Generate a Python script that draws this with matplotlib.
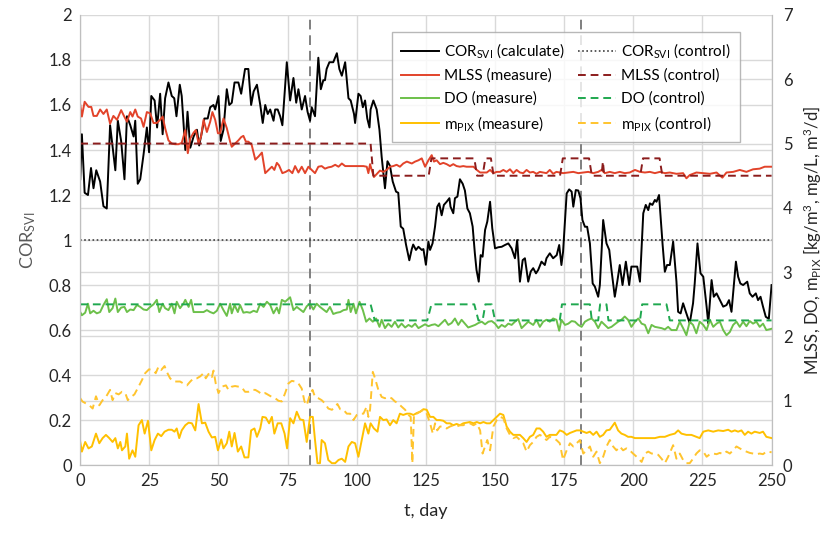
import numpy as np
import matplotlib
matplotlib.use('Agg')
from matplotlib import pyplot as plt

plt.rcParams['font.family'] = ['Lato', 'DejaVu Sans']
plt.rcParams['mathtext.fontset'] = 'custom'
plt.rcParams['mathtext.rm'] = 'Lato'
plt.rcParams['mathtext.it'] = 'Lato'
plt.rcParams['mathtext.default'] = 'rm'

# COR_SVI (calculate), left axis
cor_day = [0, 0.6, 1.6, 2.8, 3.9, 4.8, 5.8, 7.2, 8.4, 9.6, 10.8, 12.7, 13.6, 14.8, 16.0, 16.9,
           18.1, 19.3, 19.9, 20.8, 21.7, 22.9, 24.1, 24.9, 25.7, 26.9, 27.8, 28.9, 29.8, 30.7,
           31.9, 33.1, 34.0, 34.8, 36.0, 36.7, 38.0, 38.8, 39.8, 41.0, 42.2, 43.0, 44.0, 44.9,
           46.1, 47.0, 48.2, 48.8, 50.0, 50.8, 51.8, 53.0, 53.9, 54.8, 55.8, 57.2, 58.2, 59.6,
           60.8, 61.8, 62.7, 63.9, 65.1, 66.0, 66.9, 67.8, 68.7, 69.9, 70.5, 71.4, 72.3, 73.1,
           74.7, 75.9, 77.1, 78.1, 78.9, 80.1, 81.3, 82.2, 83.1, 83.7, 84.9, 86.1, 87.0, 87.9,
           88.5, 89.1, 90.1, 91.5, 92.8, 93.7, 94.6, 95.8, 97.0, 97.8, 99.0, 99.4, 100.6, 101.4,
           102.2, 103.0, 103.8, 104.6, 105.0, 106.0, 107.2, 108.2, 109.0, 109.6, 110.2, 111.1,
           112.0, 113.0, 114.2, 115.0, 115.9, 116.8, 117.8, 119.0, 119.9, 120.4, 121.4, 122.3,
           123.5, 124.1, 125.0, 125.9, 126.5, 127.4, 128.3, 129.1, 129.8, 130.7, 131.5, 132.5,
           133.5, 133.9, 134.9, 135.5, 136.4, 137.3, 138.3, 139.1, 140.0, 140.9, 141.9, 142.7,
           143.3, 144.1, 144.8, 145.5, 146.4, 147.2, 148.2, 149.0, 150.0, 151.2, 152.4, 153.6,
           154.8, 156.0, 157.2, 158.0, 159.0, 160.0, 160.8, 162.0, 162.9, 163.8, 164.8, 165.6,
           166.8, 168.0, 168.6, 169.8, 171.0, 172.3, 173.2, 174.0, 174.6, 175.9, 176.8, 177.7,
           178.3, 179.2, 180.1, 180.9, 181.6, 182.5, 183.3, 184.3, 185.3, 186.1, 187.3, 187.9,
           189.1, 190.3, 191.3, 192.1, 193.3, 194.2, 195.1, 196.1, 197.3, 198.5, 199.3, 200.6,
           201.4, 202.4, 203.6, 204.5, 205.4, 206.0, 206.9, 207.8, 208.4, 209.3, 210.6, 211.4,
           212.2, 213.2, 214.4, 215.6, 216.2, 217.1, 218.0, 219.0, 220.4, 221.6, 222.2, 223.2,
           224.3, 225.3, 226.5, 227.1, 228.3, 229.1, 230.1, 231.3, 232.5, 233.7, 234.6, 235.5,
           236.3, 237.1, 237.9, 238.7, 239.7, 241.2, 242.1, 243.1, 244.3, 245.1, 246.0, 246.9,
           247.9, 249.0, 250.0]
cor_val = [1.27, 1.47, 1.21, 1.20, 1.32, 1.23, 1.31, 1.26, 1.15, 1.14, 1.51, 1.31, 1.53, 1.44, 1.27, 1.55,
           1.51, 1.46, 1.53, 1.25, 1.27, 1.38, 1.50, 1.39, 1.64, 1.62, 1.50, 1.65, 1.47, 1.63,
           1.70, 1.64, 1.63, 1.55, 1.69, 1.64, 1.40, 1.57, 1.41, 1.46, 1.49, 1.42, 1.48, 1.54,
           1.54, 1.59, 1.60, 1.58, 1.64, 1.44, 1.49, 1.67, 1.60, 1.61, 1.70, 1.70, 1.65, 1.76,
           1.76, 1.60, 1.66, 1.69, 1.60, 1.52, 1.60, 1.56, 1.58, 1.53, 1.58, 1.58, 1.55, 1.51,
           1.79, 1.62, 1.72, 1.61, 1.67, 1.58, 1.64, 1.57, 1.53, 1.59, 1.55, 1.81, 1.67, 1.71,
           1.71, 1.76, 1.79, 1.79, 1.83, 1.76, 1.73, 1.79, 1.63, 1.62, 1.56, 1.52, 1.65, 1.64,
           1.59, 1.62, 1.54, 1.50, 1.58, 1.62, 1.58, 1.49, 1.37, 1.30, 1.23, 1.35,
           1.33, 1.26, 1.215, 1.21, 1.06, 1.05, 0.98, 0.91, 0.96, 0.98, 0.956, 0.97,
           0.956, 0.96, 0.89, 0.993, 0.956, 0.985, 1.06, 1.148, 1.163, 1.11, 1.156, 1.17,
           1.186, 1.148, 1.119, 1.186, 1.193, 1.27, 1.25, 1.22, 1.14, 1.119, 1.06, 0.941,
           0.867, 0.815, 0.933, 0.926, 1.045, 1.082, 1.17, 1.052, 0.963, 0.968, 0.97, 0.978,
           0.985, 0.963, 0.919, 1.0, 0.815, 0.911, 0.919, 0.815, 0.86, 0.875, 0.852, 0.867,
           0.904, 0.889, 0.919, 0.941, 0.919, 0.933, 0.978, 0.889, 0.948, 1.207, 1.225, 1.215,
           1.148, 1.222, 1.22, 1.185, 1.089, 1.059, 1.059, 0.985, 0.807, 0.793, 0.748, 0.80,
           1.089, 0.985, 0.956, 0.867, 0.748, 0.815, 0.889, 0.80, 0.904, 0.80, 0.882, 0.882,
           0.882, 0.815, 1.119, 1.156, 1.133, 1.163, 1.156, 1.178, 1.17, 1.20, 0.978, 0.859,
           0.889, 0.889, 0.993, 0.815, 0.681, 0.674, 0.719, 0.681, 0.63, 0.719, 0.807, 0.985,
           0.852, 0.837, 0.704, 0.63, 0.822, 0.748, 0.763, 0.733, 0.704, 0.711, 0.733, 0.681,
           0.793, 0.904, 0.837, 0.807, 0.80, 0.815, 0.763, 0.748, 0.763, 0.733, 0.748, 0.704,
           0.659, 0.65, 0.80]

# COR_SVI (control)
cor_ctrl_day = [0, 250]
cor_ctrl_val = [1.0, 1.0]

# MLSS (measure), right axis
mlss_day = [0, 0.6, 1.6, 3.0, 4.0, 4.8, 6.0, 7.2, 8.4, 9.6, 10.8, 12.0, 13.3, 14.8, 15.7, 16.9,
            18.1, 18.9, 19.9, 20.8, 22.0, 22.9, 24.1, 25.3, 26.5, 27.7, 28.9, 29.8, 30.7, 31.9,
            33.1, 34.3, 35.5, 36.7, 38.0, 38.9, 39.8, 41.0, 41.8, 42.8, 43.7, 44.6, 45.8, 47.0,
            47.8, 48.8, 49.8, 50.6, 51.8, 53.0, 54.2, 54.8, 56.0, 57.2, 58.2, 59.0, 59.9, 60.8,
            62.0, 63.3, 64.5, 65.7, 66.9, 68.1, 69.3, 70.2, 71.1, 71.9, 73.1, 74.3, 75.5, 76.7,
            77.7, 78.9, 80.1, 81.3, 82.5, 83.7, 84.9, 86.1, 87.3, 88.5, 89.7, 90.9, 92.2, 93.4,
            94.6, 95.8, 97.0, 98.8, 100.6, 102.4, 103.6, 104.2, 104.8, 105.4, 106.2, 107.5, 108.4,
            109.6, 110.8, 112.0, 113.2, 114.4, 115.6, 116.8, 118.1, 119.9, 121.1, 122.3, 123.5,
            124.7, 125.9, 127.1, 127.9, 128.9, 130.1, 131.3, 132.5, 133.7, 134.9, 136.1, 137.3,
            138.5, 139.7, 140.9, 142.2, 143.4, 144.6, 145.8, 147.0, 148.2, 149.4, 150.6, 151.8,
            153.0, 154.2, 155.4, 156.6, 157.8, 159.0, 160.2, 161.4, 162.6, 163.8, 165.0, 166.2,
            167.4, 168.6, 169.8, 171.0, 172.2, 173.4, 174.6, 176.5, 178.3, 180.1, 181.9, 183.7,
            185.5, 187.3, 188.5, 189.7, 191.5, 193.3, 195.1, 196.9, 198.7, 200.6, 202.4, 204.2,
            206.0, 207.8, 209.6, 211.4, 213.2, 215.6, 218.0, 219.2, 220.4, 222.8, 225.3, 227.7,
            230.1, 232.2, 233.7, 236.1, 238.5, 240.9, 243.3, 245.7, 247.5, 250.0]
mlss_val = [5.60, 5.42, 5.65, 5.57, 5.57, 5.43, 5.43, 5.53, 5.46, 5.53, 5.31, 5.43, 5.37, 5.52, 5.44, 5.34,
            5.49, 5.42, 5.53, 5.42, 5.39, 5.26, 5.49, 5.47, 5.32, 5.32, 5.37, 5.42, 5.24, 5.05,
            5.00, 4.99, 4.99, 5.01, 5.21, 4.85, 5.08, 5.17, 5.21, 5.00, 5.11, 5.37, 5.18, 5.34,
            5.49, 5.37, 5.16, 5.16, 5.39, 5.24, 5.03, 4.95, 5.00, 5.05, 5.10, 5.12, 5.03, 5.03,
            4.98, 4.75, 4.80, 4.86, 4.54, 4.59, 4.64, 4.59, 4.70, 4.66, 4.54, 4.56, 4.59, 4.54,
            4.65, 4.55, 4.64, 4.54, 4.64, 4.59, 4.54, 4.64, 4.65, 4.61, 4.63, 4.64, 4.67, 4.64,
            4.69, 4.65, 4.65, 4.65, 4.65, 4.65, 4.64, 4.54, 4.68, 4.59, 4.48, 4.54, 4.58,
            4.56, 4.59, 4.64, 4.65, 4.67, 4.64, 4.69, 4.72, 4.69, 4.72, 4.74, 4.77,
            4.64, 4.74, 4.82, 4.72, 4.74, 4.68, 4.70, 4.68, 4.65, 4.68, 4.65, 4.64,
            4.65, 4.64, 4.64, 4.64, 4.59, 4.55, 4.55, 4.55, 4.59, 4.54, 4.56, 4.56,
            4.59, 4.56, 4.60, 4.54, 4.59, 4.55, 4.54, 4.59, 4.55, 4.56, 4.53, 4.56,
            4.55, 4.54, 4.59, 4.53, 4.56, 4.55, 4.54, 4.55, 4.56, 4.54, 4.55, 4.56,
            4.54, 4.56, 4.59, 4.54, 4.56, 4.54, 4.56, 4.54, 4.55, 4.59, 4.56, 4.55,
            4.56, 4.54, 4.56, 4.54, 4.55, 4.53, 4.54, 4.46, 4.51, 4.55, 4.54, 4.53,
            4.55, 4.47, 4.55, 4.56, 4.59, 4.56, 4.60, 4.61, 4.64, 4.64]

# MLSS (control)
mlss_ctrl_day = [0, 105, 106, 126, 127, 142.5, 143.5, 145.5, 146.5, 148.5, 149.5, 173.5, 174.5,
                 184, 185, 188.5, 189, 189.5, 202.5, 203.5, 209.5, 210.5, 250]
mlss_ctrl_val = [5.0, 5.0, 4.5, 4.5, 4.77, 4.77, 4.5, 4.5, 4.77, 4.77, 4.5, 4.5, 4.77,
                 4.77, 4.5, 4.5, 4.72, 4.5, 4.5, 4.77, 4.77, 4.5, 4.5]

# DO (measure)
do_day = [0, 0.6, 1.8, 2.8, 3.6, 4.8, 6.0, 7.2, 8.4, 9.6, 10.5, 11.7, 12.7, 13.6, 14.8, 16.0,
          16.9, 18.1, 19.3, 20.5, 21.7, 22.9, 24.1, 25.3, 26.5, 27.7, 28.6, 29.8, 30.7, 31.9,
          33.1, 34.1, 34.9, 36.1, 37.3, 38.0, 39.2, 40.1, 41.0, 42.8, 44.6, 45.8, 47.0, 48.2,
          49.4, 50.6, 51.8, 53.0, 54.2, 54.8, 55.8, 57.0, 57.8, 59.0, 60.2, 61.4, 62.7, 63.9,
          65.1, 66.3, 67.5, 68.7, 69.9, 71.1, 71.9, 72.9, 74.1, 75.9, 77.1, 78.3, 79.5, 80.7,
          81.9, 83.1, 84.3, 85.5, 86.7, 87.9, 89.1, 90.3, 91.5, 92.8, 94.0, 95.2, 96.4, 97.0,
          97.8, 98.8, 99.7, 101.0, 102.2, 103.4, 104.6, 105.8, 107.0, 108.2, 109.0, 110.2,
          111.4, 112.6, 113.8, 115.0, 116.2, 117.5, 118.7, 119.9, 121.1, 122.3, 123.5, 124.7,
          125.9, 127.1, 128.3, 129.5, 130.7, 131.9, 133.1, 134.3, 135.5, 136.7, 137.9, 139.1,
          140.3, 141.5, 142.8, 144.0, 145.2, 146.4, 147.6, 148.8, 150.0, 151.2, 152.4, 153.6,
          154.8, 156.0, 157.2, 158.4, 159.6, 160.8, 162.0, 163.8, 165.0, 166.2, 167.4, 168.6,
          169.8, 171.0, 172.2, 173.2, 174.0, 175.3, 176.5, 177.7, 178.9, 180.1, 181.3, 182.5,
          183.7, 184.9, 186.1, 187.3, 188.5, 189.7, 190.9, 192.1, 193.3, 194.5, 195.7, 196.9,
          198.1, 199.3, 200.6, 201.8, 203.0, 204.2, 205.4, 206.6, 207.8, 209.0, 210.2, 211.4,
          212.6, 213.8, 215.6, 216.8, 218.0, 219.2, 220.4, 221.6, 222.8, 224.0, 225.3, 226.5,
          227.7, 228.9, 230.1, 231.3, 232.5, 233.7, 234.9, 236.1, 237.3, 238.5, 239.7, 240.9,
          242.1, 243.3, 244.5, 245.7, 246.9, 248.1, 250.0]
do_val = [2.38, 2.33, 2.37, 2.51, 2.36, 2.40, 2.36, 2.38, 2.49, 2.58, 2.38, 2.44, 2.59, 2.38, 2.45, 2.46,
          2.38, 2.42, 2.41, 2.49, 2.46, 2.42, 2.41, 2.46, 2.50, 2.57, 2.38, 2.51, 2.44, 2.41,
          2.51, 2.36, 2.54, 2.44, 2.51, 2.57, 2.46, 2.57, 2.38, 2.38, 2.38, 2.41, 2.38, 2.36,
          2.40, 2.51, 2.41, 2.32, 2.51, 2.36, 2.49, 2.38, 2.49, 2.37, 2.38, 2.37, 2.40, 2.38,
          2.51, 2.46, 2.54, 2.49, 2.36, 2.45, 2.36, 2.57, 2.54, 2.61, 2.41, 2.46, 2.42, 2.38,
          2.47, 2.51, 2.42, 2.51, 2.46, 2.42, 2.38, 2.46, 2.35, 2.37, 2.38, 2.41, 2.42, 2.57,
          2.38, 2.51, 2.36, 2.54, 2.41, 2.23, 2.28, 2.23, 2.28, 2.15, 2.26, 2.13,
          2.20, 2.15, 2.23, 2.14, 2.20, 2.14, 2.18, 2.15, 2.20, 2.13, 2.16, 2.19,
          2.16, 2.18, 2.19, 2.16, 2.21, 2.26, 2.18, 2.21, 2.28, 2.18, 2.26, 2.20,
          2.14, 2.16, 2.18, 2.21, 2.23, 2.19, 2.23, 2.24, 2.20, 2.13, 2.18, 2.15,
          2.20, 2.18, 2.23, 2.27, 2.13, 2.18, 2.23, 2.18, 2.26, 2.15, 2.23, 2.26,
          2.23, 2.28, 2.26, 2.09, 2.26, 2.18, 2.20, 2.24, 2.23, 2.18, 2.15, 2.23,
          2.26, 2.28, 2.23, 2.13, 2.23, 2.18, 2.13, 2.15, 2.19, 2.23, 2.26, 2.31,
          2.26, 2.15, 2.23, 2.28, 2.20, 2.18, 2.05, 2.18, 2.15, 2.14, 2.13, 2.11,
          2.15, 2.10, 2.10, 2.23, 2.13, 2.02, 2.23, 2.18, 2.05, 2.23, 2.18, 2.10,
          2.26, 2.15, 2.20, 2.23, 2.10, 2.02, 2.07, 2.18, 2.23, 2.15, 2.23, 2.16,
          2.24, 2.20, 2.23, 2.15, 2.20, 2.10, 2.12]

# DO (control)
do_ctrl_day = [0, 105, 106.5, 125.5, 127, 142.5, 144, 145.5, 146.5, 148.8, 150, 173.4, 174.2,
               184.3, 185, 187.3, 188, 190.3, 191, 202.4, 203.2, 212, 213.2, 250]
do_ctrl_val = [2.5, 2.5, 2.25, 2.25, 2.5, 2.5, 2.25, 2.25, 2.5, 2.5, 2.25, 2.25, 2.5,
               2.5, 2.25, 2.25, 2.5, 2.5, 2.25, 2.25, 2.5, 2.5, 2.25, 2.25]

# m_PIX (measure)
pix_day = [0, 0.6, 1.8, 3.0, 4.2, 5.7, 6.9, 8.1, 9.3, 10.5, 11.7, 12.7, 13.6, 14.5, 15.1, 16.3,
           16.9, 17.7, 18.9, 19.9, 21.1, 22.3, 23.3, 24.5, 25.7, 26.9, 28.1, 29.3, 30.5, 31.9,
           33.1, 34.1, 34.9, 35.8, 36.7, 38.0, 39.2, 40.4, 41.6, 42.8, 44.0, 45.2, 46.4, 47.6,
           48.8, 49.8, 51.0, 51.8, 53.0, 53.9, 54.8, 55.8, 57.0, 58.2, 59.4, 60.8, 61.8, 63.0,
           63.9, 65.1, 65.9, 67.1, 68.3, 69.3, 70.2, 71.4, 72.7, 73.9, 74.8, 75.9, 77.1, 78.3,
           79.5, 80.7, 81.9, 83.1, 84.1, 84.9, 85.8, 86.7, 87.3, 88.5, 89.7, 91.0, 92.2, 93.4,
           94.6, 95.8, 97.0, 98.2, 99.4, 100.6, 101.8, 103.0, 104.2, 105.0, 106.2, 107.5, 108.4,
           109.6, 110.8, 112.0, 113.2, 114.4, 115.6, 116.8, 118.1, 119.3, 120.5, 121.7, 122.9,
           124.1, 125.3, 126.5, 127.7, 128.9, 130.1, 131.3, 132.5, 133.7, 134.9, 136.1, 137.3,
           138.5, 139.7, 140.9, 142.2, 143.4, 144.6, 145.8, 147.0, 148.2, 149.4, 150.6, 151.8,
           153.0, 154.2, 155.4, 156.6, 157.8, 159.0, 160.2, 161.4, 162.6, 163.8, 165.0, 166.2,
           167.4, 168.6, 169.8, 171.0, 172.2, 173.4, 174.6, 175.9, 177.1, 178.3, 179.5, 180.7,
           181.9, 183.1, 184.3, 185.5, 186.7, 187.9, 189.1, 190.3, 191.5, 193.3, 194.5, 195.7,
           196.9, 198.1, 199.3, 200.6, 202.4, 204.2, 206.0, 207.8, 209.6, 211.4, 213.2, 215.0,
           216.2, 217.4, 219.2, 221.0, 222.8, 224.0, 225.3, 227.1, 228.9, 230.7, 232.5, 234.3,
           235.5, 236.7, 237.9, 239.1, 240.3, 241.5, 242.7, 243.9, 245.7, 246.9, 248.1, 250.0]
pix_val = [0.36, 0.21, 0.36, 0.26, 0.29, 0.49, 0.34, 0.42, 0.47, 0.42, 0.36, 0.42, 0.26, 0.36, 0.23, 0.29,
           0.49, 0.10, 0.23, 0.13, 0.62, 0.70, 0.49, 0.69, 0.23, 0.39, 0.49, 0.45, 0.52, 0.55,
           0.55, 0.52, 0.57, 0.42, 0.54, 0.62, 0.66, 0.65, 0.54, 0.95, 0.65, 0.66, 0.52, 0.43,
           0.44, 0.23, 0.40, 0.26, 0.34, 0.52, 0.29, 0.50, 0.21, 0.29, 0.12, 0.12, 0.54, 0.57,
           0.44, 0.57, 0.75, 0.74, 0.65, 0.75, 0.49, 0.65, 0.65, 0.49, 0.26, 0.73, 0.65, 0.83,
           0.71, 0.70, 0.36, 0.75, 0.75, 0.39, 0.03, 0.03, 0.39, 0.34, 0.08, 0.03, 0.03, 0.08,
           0.10, 0.05, 0.29, 0.36, 0.34, 0.13, 0.39, 0.65, 0.49, 0.65, 0.57, 0.52, 0.75,
           0.70, 0.71, 0.62, 0.70, 0.65, 0.80, 0.78, 0.80, 0.80, 0.78, 0.81, 0.83,
           0.87, 0.86, 0.75, 0.75, 0.70, 0.70, 0.69, 0.65, 0.65, 0.62, 0.64, 0.62,
           0.65, 0.66, 0.67, 0.65, 0.67, 0.65, 0.67, 0.65, 0.65, 0.70, 0.75, 0.80,
           0.78, 0.60, 0.52, 0.47, 0.47, 0.47, 0.42, 0.36, 0.44, 0.47, 0.57, 0.57,
           0.52, 0.44, 0.47, 0.47, 0.47, 0.54, 0.52, 0.47, 0.50, 0.52, 0.54, 0.54,
           0.52, 0.50, 0.52, 0.47, 0.52, 0.44, 0.47, 0.54, 0.55, 0.66, 0.54, 0.49,
           0.47, 0.44, 0.44, 0.42, 0.42, 0.42, 0.42, 0.42, 0.44, 0.44, 0.47, 0.49,
           0.54, 0.49, 0.47, 0.47, 0.44, 0.42, 0.52, 0.54, 0.52, 0.54, 0.53, 0.55,
           0.52, 0.54, 0.52, 0.54, 0.47, 0.52, 0.49, 0.52, 0.50, 0.52, 0.44, 0.42]

# m_PIX (control)
pix_ctrl_day = [0, 0.8, 2.0, 3.3, 4.5, 5.7, 6.9, 8.1, 9.3, 10.8, 11.7, 12.7, 13.9, 15.1, 16.3,
                17.2, 18.4, 19.6, 21.1, 22.3, 23.5, 24.9, 26.5, 27.3, 28.3, 29.3, 30.5, 31.3,
                32.5, 33.7, 34.9, 36.1, 37.3, 38.6, 39.8, 41.0, 42.2, 43.4, 44.6, 45.4, 46.6,
                47.6, 48.2, 49.0, 50.0, 51.2, 52.7, 53.6, 54.8, 56.0, 57.2, 58.4, 59.6, 60.8,
                62.0, 63.3, 64.5, 65.7, 66.9, 68.1, 69.3, 70.5, 71.7, 72.9, 74.1, 75.3, 76.5,
                77.7, 78.9, 80.1, 81.1, 81.9, 82.8, 84.0, 84.9, 86.1, 87.3, 88.5, 89.7, 91.0,
                92.2, 93.0, 94.0, 95.2, 96.4, 97.6, 98.8, 100.0, 101.2, 102.4, 103.6, 104.2,
                104.8, 105.8, 106.6, 107.8, 109.0, 110.2, 111.4, 112.6, 113.8, 115.0, 116.2,
                117.5, 118.7, 119.5, 120.1, 120.7, 121.7, 122.9, 124.1, 125.3, 126.5, 127.5,
                128.3, 129.1, 130.1, 131.3, 132.5, 133.7, 134.9, 136.1, 137.3, 138.5, 139.7,
                140.9, 142.2, 143.4, 144.6, 145.5, 146.4, 147.2, 148.2, 149.4, 150.6, 151.8,
                153.0, 154.2, 155.4, 156.6, 157.8, 159.0, 160.2, 161.4, 162.6, 163.8, 165.0,
                166.2, 167.4, 168.6, 169.8, 171.0, 172.2, 173.4, 174.6, 175.9, 177.1, 178.3,
                179.5, 180.7, 181.9, 183.1, 184.3, 185.5, 186.7, 187.9, 189.1, 190.3, 191.5,
                192.7, 193.9, 195.1, 196.3, 197.5, 198.7, 199.9, 201.2, 203.0, 204.2, 205.4,
                206.6, 207.8, 209.0, 210.2, 211.4, 212.6, 214.4, 215.6, 216.8, 218.0, 219.2,
                220.4, 221.6, 222.8, 224.0, 225.3, 226.5, 227.7, 228.9, 230.1, 231.3, 232.5,
                233.7, 234.9, 236.1, 237.3, 238.5, 239.7, 240.9, 242.1, 243.3, 244.5, 245.7,
                246.9, 248.1, 250.0]
pix_ctrl_val = [1.04, 0.99, 0.96, 0.93, 0.88, 1.07, 0.93, 1.01, 1.06, 1.17, 1.01, 1.12, 1.10, 1.14, 1.12,
                1.01, 1.06, 1.10, 1.22, 1.32, 1.43, 1.49, 1.47, 1.43, 1.53, 1.48, 1.54, 1.45,
                1.35, 1.30, 1.30, 1.30, 1.27, 1.24, 1.30, 1.35, 1.35, 1.38, 1.43, 1.35, 1.43,
                1.37, 1.47, 1.27, 1.12, 1.22, 1.24, 1.17, 1.22, 1.23, 1.22, 1.21, 1.14, 1.14,
                1.17, 1.17, 1.14, 1.10, 1.12, 1.09, 1.06, 1.04, 1.00, 0.99, 1.12, 1.27, 1.31,
                1.30, 1.27, 1.19, 0.99, 0.93, 1.06, 1.17, 1.06, 1.04, 1.01, 0.96, 0.88, 0.86,
                0.91, 0.95, 0.87, 0.86, 0.80, 0.80, 0.70, 0.78, 0.80, 0.80, 0.91, 0.75,
                0.86, 1.45, 1.35, 1.17, 1.06, 1.04, 1.06, 1.04, 0.99, 0.96, 0.91,
                0.86, 0.78, 0.75, 0.03, 0.80, 0.80, 0.83, 0.86, 0.80, 0.65, 0.49,
                0.65, 0.54, 0.60, 0.60, 0.57, 0.60, 0.62, 0.60, 0.62, 0.62, 0.65,
                0.65, 0.62, 0.65, 0.54, 0.18, 0.29, 0.39, 0.23, 0.60, 0.70, 0.75,
                0.73, 0.57, 0.47, 0.42, 0.44, 0.39, 0.34, 0.21, 0.31, 0.36, 0.44,
                0.47, 0.44, 0.39, 0.44, 0.42, 0.39, 0.34, 0.08, 0.23, 0.34, 0.29,
                0.34, 0.39, 0.18, 0.23, 0.29, 0.13, 0.21, 0.03, 0.13, 0.29, 0.39,
                0.29, 0.23, 0.29, 0.23, 0.26, 0.23, 0.18, 0.13, 0.05, 0.18, 0.21,
                0.18, 0.18, 0.16, 0.10, 0.03, 0.13, 0.31, 0.10, 0.18, 0.08, 0.03,
                0.03, 0.10, 0.18, 0.23, 0.21, 0.13, 0.17, 0.18, 0.17, 0.19, 0.17,
                0.21, 0.18, 0.23, 0.29, 0.26, 0.23, 0.21, 0.19, 0.18, 0.17, 0.18,
                0.17, 0.21, 0.20]

x_ticks = [0, 25, 50, 75, 100, 125, 150, 175, 200, 225, 250]
left_ticks = [0, 0.2, 0.4, 0.6, 0.8, 1, 1.2, 1.4, 1.6, 1.8, 2]
left_labels = ['0', '0.2', '0.4', '0.6', '0.8', '1', '1.2', '1.4', '1.6', '1.8', '2']
right_ticks = [0, 1, 2, 3, 4, 5, 6, 7]
event_days = [83, 181]

grid_c = '#d9d9d9'
fig = plt.figure(figsize=(8.27, 5.34), dpi=100)
ax = fig.add_axes([0.097, 0.129, 0.836, 0.843])
ax2 = ax.twinx()

ax.set_xlim(0, 250)
ax.set_ylim(0, 2)
ax2.set_ylim(0, 7)
ax.set_xticks(x_ticks)
ax.set_yticks(left_ticks)
ax.set_yticklabels(left_labels)
# right-axis gridlines drawn behind everything, on the left axes
ax.set_yticks([t * 2 / 7 for t in right_ticks], minor=True)
ax2.set_yticks(right_ticks)
ax.grid(True, which='both', axis='y', color=grid_c, lw=1, zorder=0)
ax.grid(True, which='major', axis='x', color=grid_c, lw=1, zorder=0)
ax.set_axisbelow(True)

for s in ['top']:
    ax.spines[s].set_visible(False)
    ax2.spines[s].set_visible(False)
for s in ['left', 'right', 'bottom']:
    ax.spines[s].set_color('#bfbfbf')
    ax2.spines[s].set_color('#bfbfbf')

ax.tick_params(which='both', length=0, labelsize=12, colors='#262626', pad=6)
ax2.tick_params(length=0, labelsize=12, colors='#262626', pad=8)

for d in event_days:
    ax.axvline(d, color='#7f7f7f', ls=(0, (5, 3)), lw=1.4, zorder=1)

l_cor, = ax.plot(cor_day, cor_val, color='black', lw=1.4, zorder=3)
l_corc, = ax.plot(cor_ctrl_day, cor_ctrl_val, color='#404040', ls=(0, (1, 1.5)), lw=1.2, zorder=2)

l_mlss, = ax2.plot(mlss_day, mlss_val, color='#e2432a', lw=1.4)
l_mlssc, = ax2.plot(mlss_ctrl_day, mlss_ctrl_val, color='#8b1c1c', ls=(0, (4, 2.5)), lw=1.4)
l_do, = ax2.plot(do_day, do_val, color='#6cc04a', lw=1.4)
l_doc, = ax2.plot(do_ctrl_day, do_ctrl_val, color='#1fa84f', ls=(0, (4, 2.5)), lw=1.4)
l_pix, = ax2.plot(pix_day, pix_val, color='#ffc000', lw=1.4)
l_pixc, = ax2.plot(pix_ctrl_day, pix_ctrl_val, color='#ffc42e', ls=(0, (4, 2.5)), lw=1.4)

ax.set_xlabel('t, day', fontsize=13, color='#262626', labelpad=10)
ax.set_ylabel(r'COR$_{\mathrm{SVI}}$', fontsize=13, color='#595959', labelpad=8)
ax2.set_ylabel(r'MLSS, DO, m$_{\mathrm{PIX}}$ [kg/m$^{3}$, mg/L, m$^{3}$/d]', fontsize=12,
               color='#262626', labelpad=7)

handles = [l_cor, l_mlss, l_do, l_pix, l_corc, l_mlssc, l_doc, l_pixc]
labels = [r'COR$_{\mathrm{SVI}}$ (calculate)', 'MLSS (measure)', 'DO (measure)',
          r'm$_{\mathrm{PIX}}$ (measure)', r'COR$_{\mathrm{SVI}}$ (control)', 'MLSS (control)',
          'DO (control)', r'm$_{\mathrm{PIX}}$ (control)']
leg = ax2.legend(handles, labels, ncol=2, loc='upper right', bbox_to_anchor=(0.965, 0.978),
                 fontsize=11, frameon=True, fancybox=False, edgecolor='#a6a6a6',
                 handlelength=2.5, handletextpad=0.3, columnspacing=0.9, labelspacing=0.55,
                 borderpad=0.6)
leg.get_frame().set_linewidth(1.0)
leg.set_zorder(10)

fig.savefig('out.png', dpi=100)
